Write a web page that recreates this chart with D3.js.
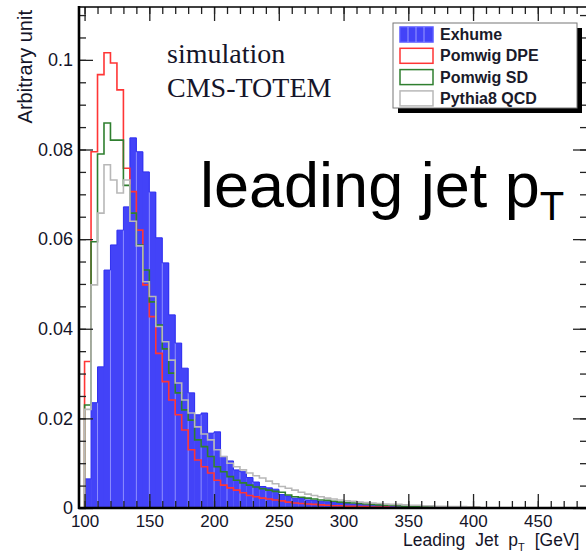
<!DOCTYPE html>
<html>
<head>
<meta charset="utf-8">
<script src="https://cdn.jsdelivr.net/npm/d3@7"></script>
<style>
  body { margin: 0; background: #fff; }
  svg { display: block; }
</style>
</head>
<body>
<div id="chart"></div>
<script>
// bin lower edges in GeV, 5 GeV wide bins
const binWidth = 5;
const binLow = [100, 105, 110, 115, 120, 125, 130, 135, 140, 145,
  150, 155, 160, 165, 170, 175, 180, 185, 190, 195,
  200, 205, 210, 215, 220, 225, 230, 235, 240, 245,
  250, 255, 260, 265, 270, 275, 280, 285, 290, 295,
  300, 305, 310, 315, 320, 325, 330, 335, 340, 345,
  350, 355, 360, 365, 370, 375, 380, 385, 390, 395, 400];

const exhume = [0.0065, 0.0235, 0.0315, 0.0531, 0.0587, 0.0620, 0.0672, 0.0826, 0.0795, 0.0750,
  0.0705, 0.0603, 0.0547, 0.0431, 0.0368, 0.0312, 0.0257, 0.0208, 0.0212, 0.0167,
  0.0170, 0.0115, 0.0105, 0.0085, 0.0081, 0.0068, 0.0058, 0.0048, 0.0045, 0.0042,
  0.0030, 0.0027, 0.0022, 0.0021, 0.0018, 0.0017, 0.0015, 0.0014, 0.0012, 0.0011,
  0.0010, 0.0009, 0.0008, 0.0007, 0.0006, 0.0006, 0.0005, 0.0005, 0.0004, 0.0004,
  0.0003, 0.0003, 0.0003, 0.0002, 0.0002, 0.0002, 0.0002, 0.0001, 0.0001, 0.0001, 0.0001];

const pomwigDPE = [0.0327, 0.0795, 0.0967, 0.1016, 0.0993, 0.0933, 0.0758, 0.0706, 0.0620, 0.0498,
  0.0427, 0.0345, 0.0282, 0.0241, 0.0208, 0.0174, 0.0130, 0.0107, 0.0092, 0.0078,
  0.0062, 0.0051, 0.0045, 0.0040, 0.0034, 0.0028, 0.0025, 0.0022, 0.0020, 0.0018,
  0.0016, 0.0013, 0.0011, 0.0010, 0.0009, 0.0008, 0.0007, 0.0006, 0.0005, 0.0005,
  0.0004, 0.0004, 0.0003, 0.0003, 0.0002, 0.0002, 0.0002, 0.0001, 0.0001, 0.0001,
  0.0001, 0.0001, 0.0001, 0.0001, 0.0001, 0.0001, 0.0001, 0.0001, 0.0001, 0.0001, 0.0001];

const pomwigSD = [0.0230, 0.0594, 0.0790, 0.0859, 0.0821, 0.0821, 0.0720, 0.0658, 0.0587, 0.0531,
  0.0460, 0.0408, 0.0355, 0.0301, 0.0257, 0.0219, 0.0196, 0.0152, 0.0137, 0.0115,
  0.0092, 0.0081, 0.0070, 0.0062, 0.0056, 0.0051, 0.0047, 0.0043, 0.0040, 0.0037,
  0.0035, 0.0029, 0.0025, 0.0024, 0.0022, 0.0020, 0.0018, 0.0017, 0.0015, 0.0013,
  0.0012, 0.0011, 0.0010, 0.0009, 0.0008, 0.0007, 0.0006, 0.0006, 0.0005, 0.0004,
  0.0004, 0.0003, 0.0003, 0.0002, 0.0002, 0.0002, 0.0001, 0.0001, 0.0001, 0.0001, 0.0001];

const pythiaQCD = [0.0220, 0.0498, 0.0658, 0.0766, 0.0732, 0.0703, 0.0732, 0.0640, 0.0585, 0.0505,
  0.0472, 0.0405, 0.0371, 0.0330, 0.0279, 0.0241, 0.0212, 0.0181, 0.0165, 0.0152,
  0.0130, 0.0115, 0.0100, 0.0092, 0.0085, 0.0078, 0.0072, 0.0067, 0.0060, 0.0054,
  0.0048, 0.0044, 0.0040, 0.0035, 0.0031, 0.0028, 0.0025, 0.0022, 0.0020, 0.0018,
  0.0016, 0.0015, 0.0013, 0.0012, 0.0011, 0.0010, 0.0009, 0.0008, 0.0008, 0.0007,
  0.0006, 0.0006, 0.0005, 0.0005, 0.0004, 0.0004, 0.0003, 0.0003, 0.0003, 0.0002, 0.0002];

const xTicks = [100, 150, 200, 250, 300, 350, 400, 450];
const yTicks = [0, 0.02, 0.04, 0.06, 0.08, 0.1];
const yTickLabels = ["0", "0.02", "0.04", "0.06", "0.08", "0.1"];
const legendNames = ["Exhume", "Pomwig DPE", "Pomwig SD", "Pythia8 QCD"];

const width = 586;
const height = 555;

const svg = d3.select("#chart")
  .append("svg")
  .attr("width", width)
  .attr("height", height)
  .style("background", "#fff");

const x = d3.scaleLinear().domain([95.7, 488]).range([79, 587]);
const y = d3.scaleLinear().domain([0, 0.1118]).range([508, 7]);

const colors = {
  blue: "#4343f8",
  red: "#ff3535",
  green: "#2f7f2f",
  grey: "#b8b8b8"
};

svg.append("clipPath").attr("id", "plot-clip")
  .append("rect")
  .attr("x", x.range()[0]).attr("y", y.range()[1])
  .attr("width", x.range()[1] - x.range()[0])
  .attr("height", y.range()[0] - y.range()[1]);

const plot = svg.append("g").attr("clip-path", "url(#plot-clip)");

// step outline of a histogram
function stepPath(vals) {
  const pts = [[x(binLow[0]), y(0)]];
  vals.forEach((v, i) => {
    pts.push([x(binLow[i]), y(v)]);
    pts.push([x(binLow[i] + binWidth), y(v)]);
  });
  pts.push([x(binLow[vals.length - 1] + binWidth), y(0)]);
  return d3.line()(pts);
}

// filled exhume histogram
plot.selectAll("rect.exhume")
  .data(exhume)
  .join("rect")
  .attr("class", "exhume")
  .attr("x", (d, i) => x(binLow[i]))
  .attr("width", (d, i) => x(binLow[i] + binWidth) - x(binLow[i]) + 0.3)
  .attr("y", d => y(d))
  .attr("height", d => y(0) - y(d))
  .attr("fill", colors.blue);

// lighter separators inside the blue fill (every other bin edge)
plot.selectAll("line.sep")
  .data(exhume.slice(1).map((d, i) => ({ i: i + 1, top: Math.min(d, exhume[i]) })).filter(d => d.i % 2 === 0))
  .join("line")
  .attr("class", "sep")
  .attr("x1", d => x(binLow[d.i]))
  .attr("x2", d => x(binLow[d.i]))
  .attr("y1", y(0))
  .attr("y2", d => y(d.top))
  .attr("stroke", "#9a9aff")
  .attr("stroke-opacity", 0.8)
  .attr("stroke-width", 1);

plot.append("path")
  .attr("d", stepPath(exhume))
  .attr("fill", "none")
  .attr("stroke", "#3030f0")
  .attr("stroke-width", 1);

const outlines = [
  { vals: pomwigDPE, color: colors.red },
  { vals: pomwigSD, color: colors.green },
  { vals: pythiaQCD, color: colors.grey }
];

outlines.forEach(s => {
  plot.append("path")
    .attr("d", stepPath(s.vals))
    .attr("fill", "none")
    .attr("stroke", s.color)
    .attr("stroke-width", 1.6);
});

// axes (ROOT style: ticks inside the frame on all four sides)
const xMinor = d3.range(100, 490, 10);
const yMinor = d3.range(0, 0.1125, 0.005);

const axBottom = svg.append("g").attr("transform", `translate(0,${y(0)})`);
axBottom.call(d3.axisBottom(x).tickValues(xMinor).tickSizeInner(-7).tickSizeOuter(0).tickFormat(""));
axBottom.append("g").attr("class", "xlab")
  .call(d3.axisBottom(x).tickValues(xTicks).tickSizeInner(-14).tickSizeOuter(0).tickPadding(7));

const axTop = svg.append("g").attr("transform", `translate(0,${y.range()[1]})`);
axTop.call(d3.axisTop(x).tickValues(xMinor).tickSizeInner(-7).tickSizeOuter(0).tickFormat(""));
axTop.append("g").call(d3.axisTop(x).tickValues(xTicks).tickSizeInner(-14).tickSizeOuter(0).tickFormat(""));

const axLeft = svg.append("g").attr("transform", `translate(${x.range()[0]},0)`);
axLeft.call(d3.axisLeft(y).tickValues(yMinor).tickSizeInner(-7).tickSizeOuter(0).tickFormat(""));
axLeft.append("g").call(d3.axisLeft(y).tickValues(yTicks).tickSizeInner(-14).tickSizeOuter(0).tickPadding(6)
  .tickFormat((d, i) => yTickLabels[i]));

const axRight = svg.append("g").attr("transform", `translate(${x.range()[1]},0)`);
axRight.call(d3.axisRight(y).tickValues(yMinor).tickSizeInner(-7).tickSizeOuter(0).tickFormat(""));
axRight.append("g").call(d3.axisRight(y).tickValues(yTicks).tickSizeInner(-14).tickSizeOuter(0).tickFormat(""));

svg.selectAll(".domain").remove();
svg.selectAll(".tick line").attr("stroke", "#222").attr("stroke-width", 1.3);
svg.selectAll(".tick text")
  .attr("font-family", "Liberation Sans, Arial, sans-serif")
  .attr("font-size", 18)
  .attr("fill", "#141428");
svg.selectAll(".xlab .tick text").attr("font-size", 17);

// frame
svg.append("line").attr("x1", 79).attr("x2", 79).attr("y1", 6).attr("y2", 509)
  .attr("stroke", "#000").attr("stroke-width", 2.6);
svg.append("line").attr("x1", 78).attr("x2", 587).attr("y1", 508).attr("y2", 508)
  .attr("stroke", "#000").attr("stroke-width", 2.6);
svg.append("line").attr("x1", 78).attr("x2", 587).attr("y1", 7).attr("y2", 7)
  .attr("stroke", "#000").attr("stroke-width", 1.6);
svg.append("line").attr("x1", 587).attr("x2", 587).attr("y1", 7).attr("y2", 508)
  .attr("stroke", "#000").attr("stroke-width", 1.6);

// axis titles
svg.append("text")
  .attr("transform", "translate(32,10) rotate(-90)")
  .attr("text-anchor", "end")
  .attr("font-family", "Liberation Sans, Arial, sans-serif")
  .attr("font-size", 20)
  .attr("fill", "#141428")
  .text("Arbitrary unit");

const xTitle = svg.append("text")
  .attr("x", 403)
  .attr("y", 546)
  .attr("font-family", "Liberation Sans, Arial, sans-serif")
  .attr("font-size", 17.5)
  .attr("word-spacing", 5)
  .attr("fill", "#141428");
xTitle.append("tspan").text("Leading Jet p");
xTitle.append("tspan").attr("font-size", 11).attr("dy", 5).text("T");
xTitle.append("tspan").attr("dy", -5).text(" [GeV]");

// annotations
svg.append("text")
  .attr("x", 167).attr("y", 63)
  .attr("font-family", "Liberation Serif, Times New Roman, serif")
  .attr("font-size", 28)
  .attr("fill", "#15152a")
  .text("simulation");
svg.append("text")
  .attr("x", 167).attr("y", 97)
  .attr("font-family", "Liberation Serif, Times New Roman, serif")
  .attr("font-size", 28)
  .attr("fill", "#15152a")
  .text("CMS-TOTEM");

const big = svg.append("text")
  .attr("x", 200).attr("y", 207)
  .attr("font-family", "Liberation Sans, Arial, sans-serif")
  .attr("font-size", 63)
  .attr("fill", "#000");
big.append("tspan").text("leading jet p");
big.append("tspan").attr("font-size", 40).attr("dy", 13).text("T");

// legend
const lg = svg.append("g");
lg.append("rect").attr("x", 398).attr("y", 28).attr("width", 184).attr("height", 85).attr("fill", "#000");
lg.append("rect").attr("x", 393).attr("y", 23).attr("width", 184).attr("height", 85)
  .attr("fill", "#fff").attr("stroke", "#777").attr("stroke-width", 1);

const legendStyle = [
  { fill: colors.blue, stroke: "#5a5aff" },
  { fill: "#fff", stroke: colors.red },
  { fill: "#fff", stroke: colors.green },
  { fill: "#fff", stroke: colors.grey }
];

legendNames.forEach((name, i) => {
  const ry = 27 + i * 21.3;
  lg.append("rect")
    .attr("x", 400).attr("y", ry)
    .attr("width", 33).attr("height", 15)
    .attr("fill", legendStyle[i].fill)
    .attr("stroke", legendStyle[i].stroke)
    .attr("stroke-width", 1.5);
  if (i === 0) {
    [408, 416, 424].forEach(lx => {
      lg.append("line").attr("x1", lx).attr("x2", lx).attr("y1", ry).attr("y2", ry + 15)
        .attr("stroke", "#9a9aff").attr("stroke-width", 1);
    });
  }
  lg.append("text")
    .attr("x", 440).attr("y", ry + 13)
    .attr("font-family", "Liberation Sans, Arial, sans-serif")
    .attr("font-size", 16)
    .attr("font-weight", "bold")
    .attr("fill", "#1a1a2a")
    .text(name);
});
</script>
</body>
</html>
